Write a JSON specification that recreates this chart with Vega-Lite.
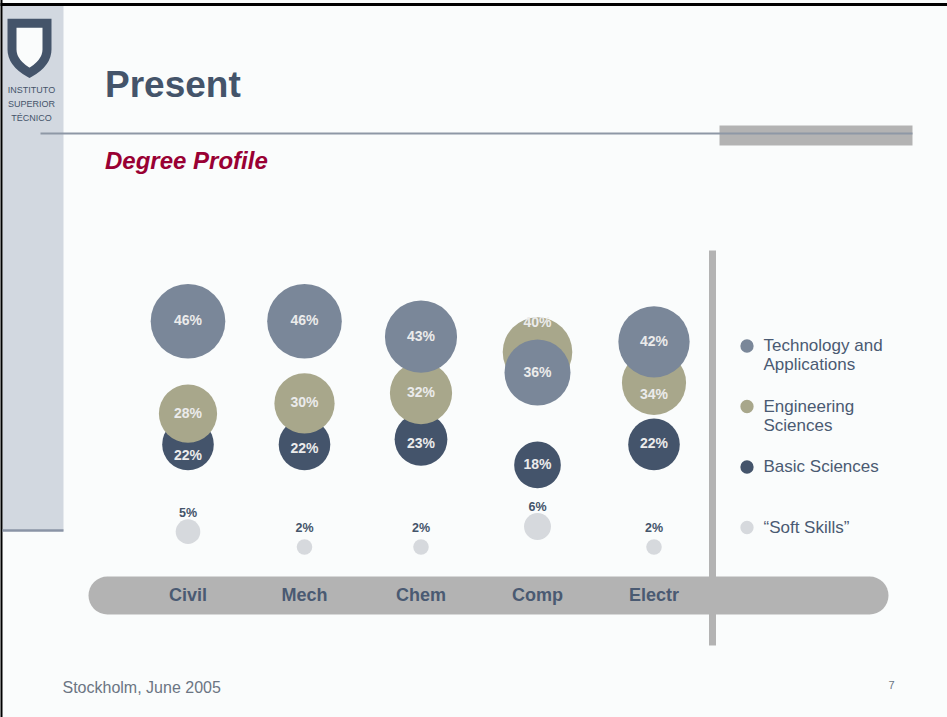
{
  "$schema": "https://vega.github.io/schema/vega-lite/v6.json",
  "width": 872,
  "height": 645,
  "autosize": {"type": "none"},
  "padding": {"left": 40, "top": 0, "right": 35, "bottom": 72},
  "background": "#fafcfc",
  "config": {"view": {"stroke": null}, "font": "Liberation Sans"},
  "title": {
    "text": "Present",
    "subtitle": "Degree Profile",
    "anchor": "start",
    "frame": "group",
    "dx": 65,
    "offset": -175,
    "font": "Liberation Sans",
    "fontSize": 37,
    "fontWeight": "bold",
    "color": "#44546a",
    "subtitleFont": "Liberation Sans",
    "subtitleFontSize": 24,
    "subtitleFontWeight": "bold",
    "subtitleFontStyle": "italic",
    "subtitleColor": "#990033",
    "subtitlePadding": 45
  },
  "data": {
    "values": [
      {"category": "Civil", "group": "Technology and Applications", "share": 0.46},
      {"category": "Civil", "group": "Engineering Sciences", "share": 0.28},
      {"category": "Civil", "group": "Basic Sciences", "share": 0.22},
      {"category": "Civil", "group": "“Soft Skills”", "share": 0.05},
      {"category": "Mech", "group": "Technology and Applications", "share": 0.46},
      {"category": "Mech", "group": "Engineering Sciences", "share": 0.30},
      {"category": "Mech", "group": "Basic Sciences", "share": 0.22},
      {"category": "Mech", "group": "“Soft Skills”", "share": 0.02},
      {"category": "Chem", "group": "Technology and Applications", "share": 0.43},
      {"category": "Chem", "group": "Engineering Sciences", "share": 0.32},
      {"category": "Chem", "group": "Basic Sciences", "share": 0.23},
      {"category": "Chem", "group": "“Soft Skills”", "share": 0.02},
      {"category": "Comp", "group": "Technology and Applications", "share": 0.36},
      {"category": "Comp", "group": "Engineering Sciences", "share": 0.40},
      {"category": "Comp", "group": "Basic Sciences", "share": 0.18},
      {"category": "Comp", "group": "“Soft Skills”", "share": 0.06},
      {"category": "Electr", "group": "Technology and Applications", "share": 0.42},
      {"category": "Electr", "group": "Engineering Sciences", "share": 0.34},
      {"category": "Electr", "group": "Basic Sciences", "share": 0.22},
      {"category": "Electr", "group": "“Soft Skills”", "share": 0.02}
    ]
  },
  "resolve": {
    "scale": {"x": "shared", "y": "shared"},
    "axis": {"x": "independent", "y": "independent"}
  },
  "layer": [
    {
      "mark": {"type": "circle", "opacity": 1, "strokeWidth": 0},
      "encoding": {
        "x": {
          "field": "category", "type": "nominal",
          "scale": {"type": "band", "domain": ["Civil", "Mech", "Chem", "Comp", "Electr"], "range": [89.75, 672.25], "paddingInner": 0, "paddingOuter": 0},
          "axis": {
            "orient": "bottom", "values": ["Electr"], "bandPosition": 1,
            "labels": false, "domain": false, "grid": false, "ticks": true,
            "tickSize": -395, "tickWidth": 7, "tickColor": "#b3b3b3", "zindex": 1,
            "title": "7", "titleX": 851, "titleY": 43, "titleAlign": "center", "titleBaseline": "alphabetic",
            "titleFont": "Liberation Sans", "titleFontSize": 11, "titleFontWeight": "normal", "titleColor": "#6b7583"
          }
        },
        "y": {
          "field": "share", "type": "quantitative",
          "scale": {"domain": [-0.171, 1.0863], "zero": false, "nice": false},
          "axis": {
            "orient": "left", "offset": -23, "values": [0.5649],
            "labels": false, "domain": false, "grid": false, "ticks": true,
            "tickSize": 61, "tickWidth": 527, "tickColor": "#d2d8e0",
            "title": ["INSTITUTO", "SUPERIOR", "TÉCNICO"], "titleAngle": 0, "titleX": -32, "titleY": 92,
            "titleAlign": "center", "titleBaseline": "alphabetic", "titleFont": "Liberation Sans",
            "titleFontSize": 9, "titleFontWeight": "normal", "titleColor": "#44546a", "titleLineHeight": 14
          }
        },
        "size": {
          "field": "share", "type": "quantitative",
          "scale": {"type": "linear", "domain": [0, 0.5], "range": [0, 6050]},
          "legend": null
        },
        "color": {
          "field": "group", "type": "nominal",
          "scale": {
            "domain": ["Technology and Applications", "Engineering Sciences", "Basic Sciences", "“Soft Skills”"],
            "range": ["#7a8799", "#a8a78b", "#44546b", "#d6d9dd"]
          },
          "legend": {
            "orient": "none", "legendX": 698.5, "legendY": 337.5, "title": null, "padding": 0,
            "symbolType": "circle", "symbolSize": 177, "symbolStrokeWidth": 0, "symbolOpacity": 1,
            "labelFont": "Liberation Sans", "labelFontSize": 17, "labelColor": "#4a5a72", "labelOffset": 8,
            "labelBaseline": "middle", "rowPadding": 23.5, "gridAlign": "all", "labelLimit": 300,
            "labelExpr": "datum.label == 'Technology and Applications' ? ['Technology and', 'Applications'] : datum.label == 'Engineering Sciences' ? ['Engineering', 'Sciences'] : [datum.label, '']"
          }
        },
        "order": {"field": "group", "type": "nominal", "sort": "ascending"}
      }
    },
    {
      "transform": [
        {"filter": "datum.group != '“Soft Skills”' && !(datum.group == 'Engineering Sciences' && (datum.category == 'Comp' || datum.category == 'Electr')) && !(datum.group == 'Basic Sciences' && (datum.category == 'Civil' || datum.category == 'Mech' || datum.category == 'Chem'))"}
      ],
      "mark": {"type": "text", "fontWeight": "bold", "fontSize": 14, "color": "#ebebeb", "baseline": "middle", "align": "center"},
      "encoding": {
        "x": {
          "field": "category", "type": "nominal",
          "scale": {"type": "band", "domain": ["Civil", "Mech", "Chem", "Comp", "Electr"], "range": [89.75, 672.25], "paddingInner": 0, "paddingOuter": 0},
          "axis": {
            "orient": "bottom", "offset": -50, "ticks": false, "domain": false, "grid": false, "zindex": 1,
            "labelPadding": 0, "labelBaseline": "middle", "labelAngle": 0, "labelFont": "Liberation Sans",
            "labelFontSize": 18, "labelFontWeight": "bold", "labelColor": "#4a5a72",
            "title": "Stockholm, June 2005", "titleX": 22, "titleY": 97, "titleAlign": "left", "titleBaseline": "alphabetic",
            "titleFont": "Liberation Sans", "titleFontSize": 16, "titleFontWeight": "normal", "titleColor": "#6b7583"
          }
        },
        "y": {
          "field": "share", "type": "quantitative",
          "scale": {"domain": [-0.171, 1.0863], "zero": false, "nice": false},
          "axis": {
            "orient": "right", "offset": -43, "values": [-0.0735],
            "labels": false, "domain": false, "grid": false, "ticks": true,
            "tickSize": -762, "tickWidth": 38, "tickCap": "round", "tickColor": "#b3b3b3", "title": null
          }
        },
        "text": {"field": "share", "type": "quantitative", "format": ".0%"}
      }
    },
    {
      "transform": [{"filter": "datum.group == '“Soft Skills”'"}],
      "mark": {"type": "text", "fontWeight": "bold", "fontSize": 12.5, "color": "#44546a", "baseline": "middle", "align": "center", "dy": -19},
      "encoding": {
        "x": {
          "field": "category", "type": "nominal",
          "scale": {"type": "band", "domain": ["Civil", "Mech", "Chem", "Comp", "Electr"], "range": [89.75, 672.25], "paddingInner": 0, "paddingOuter": 0},
          "axis": null
        },
        "y": {
          "field": "share", "type": "quantitative",
          "scale": {"domain": [-0.171, 1.0863], "zero": false, "nice": false},
          "axis": {
            "orient": "right", "offset": 0, "values": [0.8271], "zindex": 1,
            "labels": false, "domain": false, "grid": false, "ticks": true,
            "tickSize": -872, "tickWidth": 2, "tickColor": "#8e98a6", "title": null
          }
        },
        "text": {"field": "share", "type": "quantitative", "format": ".0%"}
      }
    },
    {
      "transform": [{"filter": "datum.group == 'Basic Sciences' && (datum.category == 'Mech' || datum.category == 'Chem')"}],
      "mark": {"type": "text", "fontWeight": "bold", "fontSize": 14, "color": "#ebebeb", "baseline": "middle", "align": "center", "dy": 5},
      "encoding": {
        "x": {
          "field": "category", "type": "nominal",
          "scale": {"type": "band", "domain": ["Civil", "Mech", "Chem", "Comp", "Electr"], "range": [89.75, 672.25], "paddingInner": 0, "paddingOuter": 0},
          "axis": null
        },
        "y": {
          "field": "share", "type": "quantitative",
          "scale": {"domain": [-0.171, 1.0863], "zero": false, "nice": false},
          "axis": {
            "orient": "right", "offset": 0, "values": [0.8232],
            "labels": false, "domain": false, "grid": false, "ticks": true,
            "tickSize": -193, "tickWidth": 20, "tickColor": "#b3b3b3", "title": null
          }
        },
        "text": {"field": "share", "type": "quantitative", "format": ".0%"}
      }
    },
    {
      "transform": [{"filter": "(datum.group == 'Basic Sciences' && datum.category == 'Civil') || (datum.group == 'Engineering Sciences' && datum.category == 'Electr')"}],
      "mark": {"type": "text", "fontWeight": "bold", "fontSize": 14, "color": "#ebebeb", "baseline": "middle", "align": "center", "dy": 12},
      "encoding": {
        "x": {
          "field": "category", "type": "nominal",
          "scale": {"type": "band", "domain": ["Civil", "Mech", "Chem", "Comp", "Electr"], "range": [89.75, 672.25], "paddingInner": 0, "paddingOuter": 0},
          "axis": null
        },
        "y": {
          "field": "share", "type": "quantitative",
          "scale": {"domain": [-0.171, 1.0863], "zero": false, "nice": false},
          "axis": {
            "orient": "right", "offset": 35, "values": [1.0785],
            "labels": false, "domain": false, "grid": false, "ticks": true,
            "tickSize": -947, "tickWidth": 3, "tickColor": "#000000", "title": null
          }
        },
        "text": {"field": "share", "type": "quantitative", "format": ".0%"}
      }
    },
    {
      "transform": [{"filter": "datum.group == 'Engineering Sciences' && datum.category == 'Comp'"}],
      "mark": {"type": "text", "fontWeight": "bold", "fontSize": 14, "color": "#ebebeb", "baseline": "middle", "align": "center", "dy": -29},
      "encoding": {
        "x": {
          "field": "category", "type": "nominal",
          "scale": {"type": "band", "domain": ["Civil", "Mech", "Chem", "Comp", "Electr"], "range": [89.75, 672.25], "paddingInner": 0, "paddingOuter": 0},
          "axis": null
        },
        "y": {
          "field": "share", "type": "quantitative",
          "scale": {"domain": [-0.171, 1.0863], "zero": false, "nice": false},
          "axis": {
            "orient": "left", "offset": 38, "values": [0.3875],
            "labels": false, "domain": false, "grid": false, "ticks": true,
            "tickSize": 2, "tickWidth": 717, "tickColor": "#000000", "title": null
          }
        },
        "text": {"field": "share", "type": "quantitative", "format": ".0%"}
      }
    },
    {
      "transform": [{"filter": "datum.group == '“Soft Skills”' && datum.category == 'Civil'"}],
      "mark": {"type": "point", "filled": true, "color": "#fafcfc", "stroke": "#44546a", "strokeWidth": 9, "opacity": 0},
      "encoding": {
        "y": {
          "field": "share", "type": "quantitative",
          "scale": {"domain": [-0.171, 1.0863], "zero": false, "nice": false},
          "axis": {
            "orient": "left", "offset": -23, "values": [0.0532],
            "labels": false, "domain": false, "grid": false, "ticks": true,
            "tickSize": 61, "tickWidth": 2.5, "tickColor": "#8a94a6", "title": null
          }
        },
        "shape": {
          "datum": "IST", "type": "nominal",
          "scale": {"range": ["M-0.614,-0.87L0.614,-0.87L0.614,0.05C0.614,0.45,0.3,0.7,0,0.87C-0.3,0.7,-0.614,0.45,-0.614,0.05Z"]},
          "legend": {
            "orient": "none", "legendX": -43.5, "legendY": 15, "title": null, "padding": 0,
            "symbolSize": 3249, "symbolStrokeWidth": 9, "symbolOpacity": 1, "labelExpr": "''"
          }
        }
      }
    }
  ]
}
